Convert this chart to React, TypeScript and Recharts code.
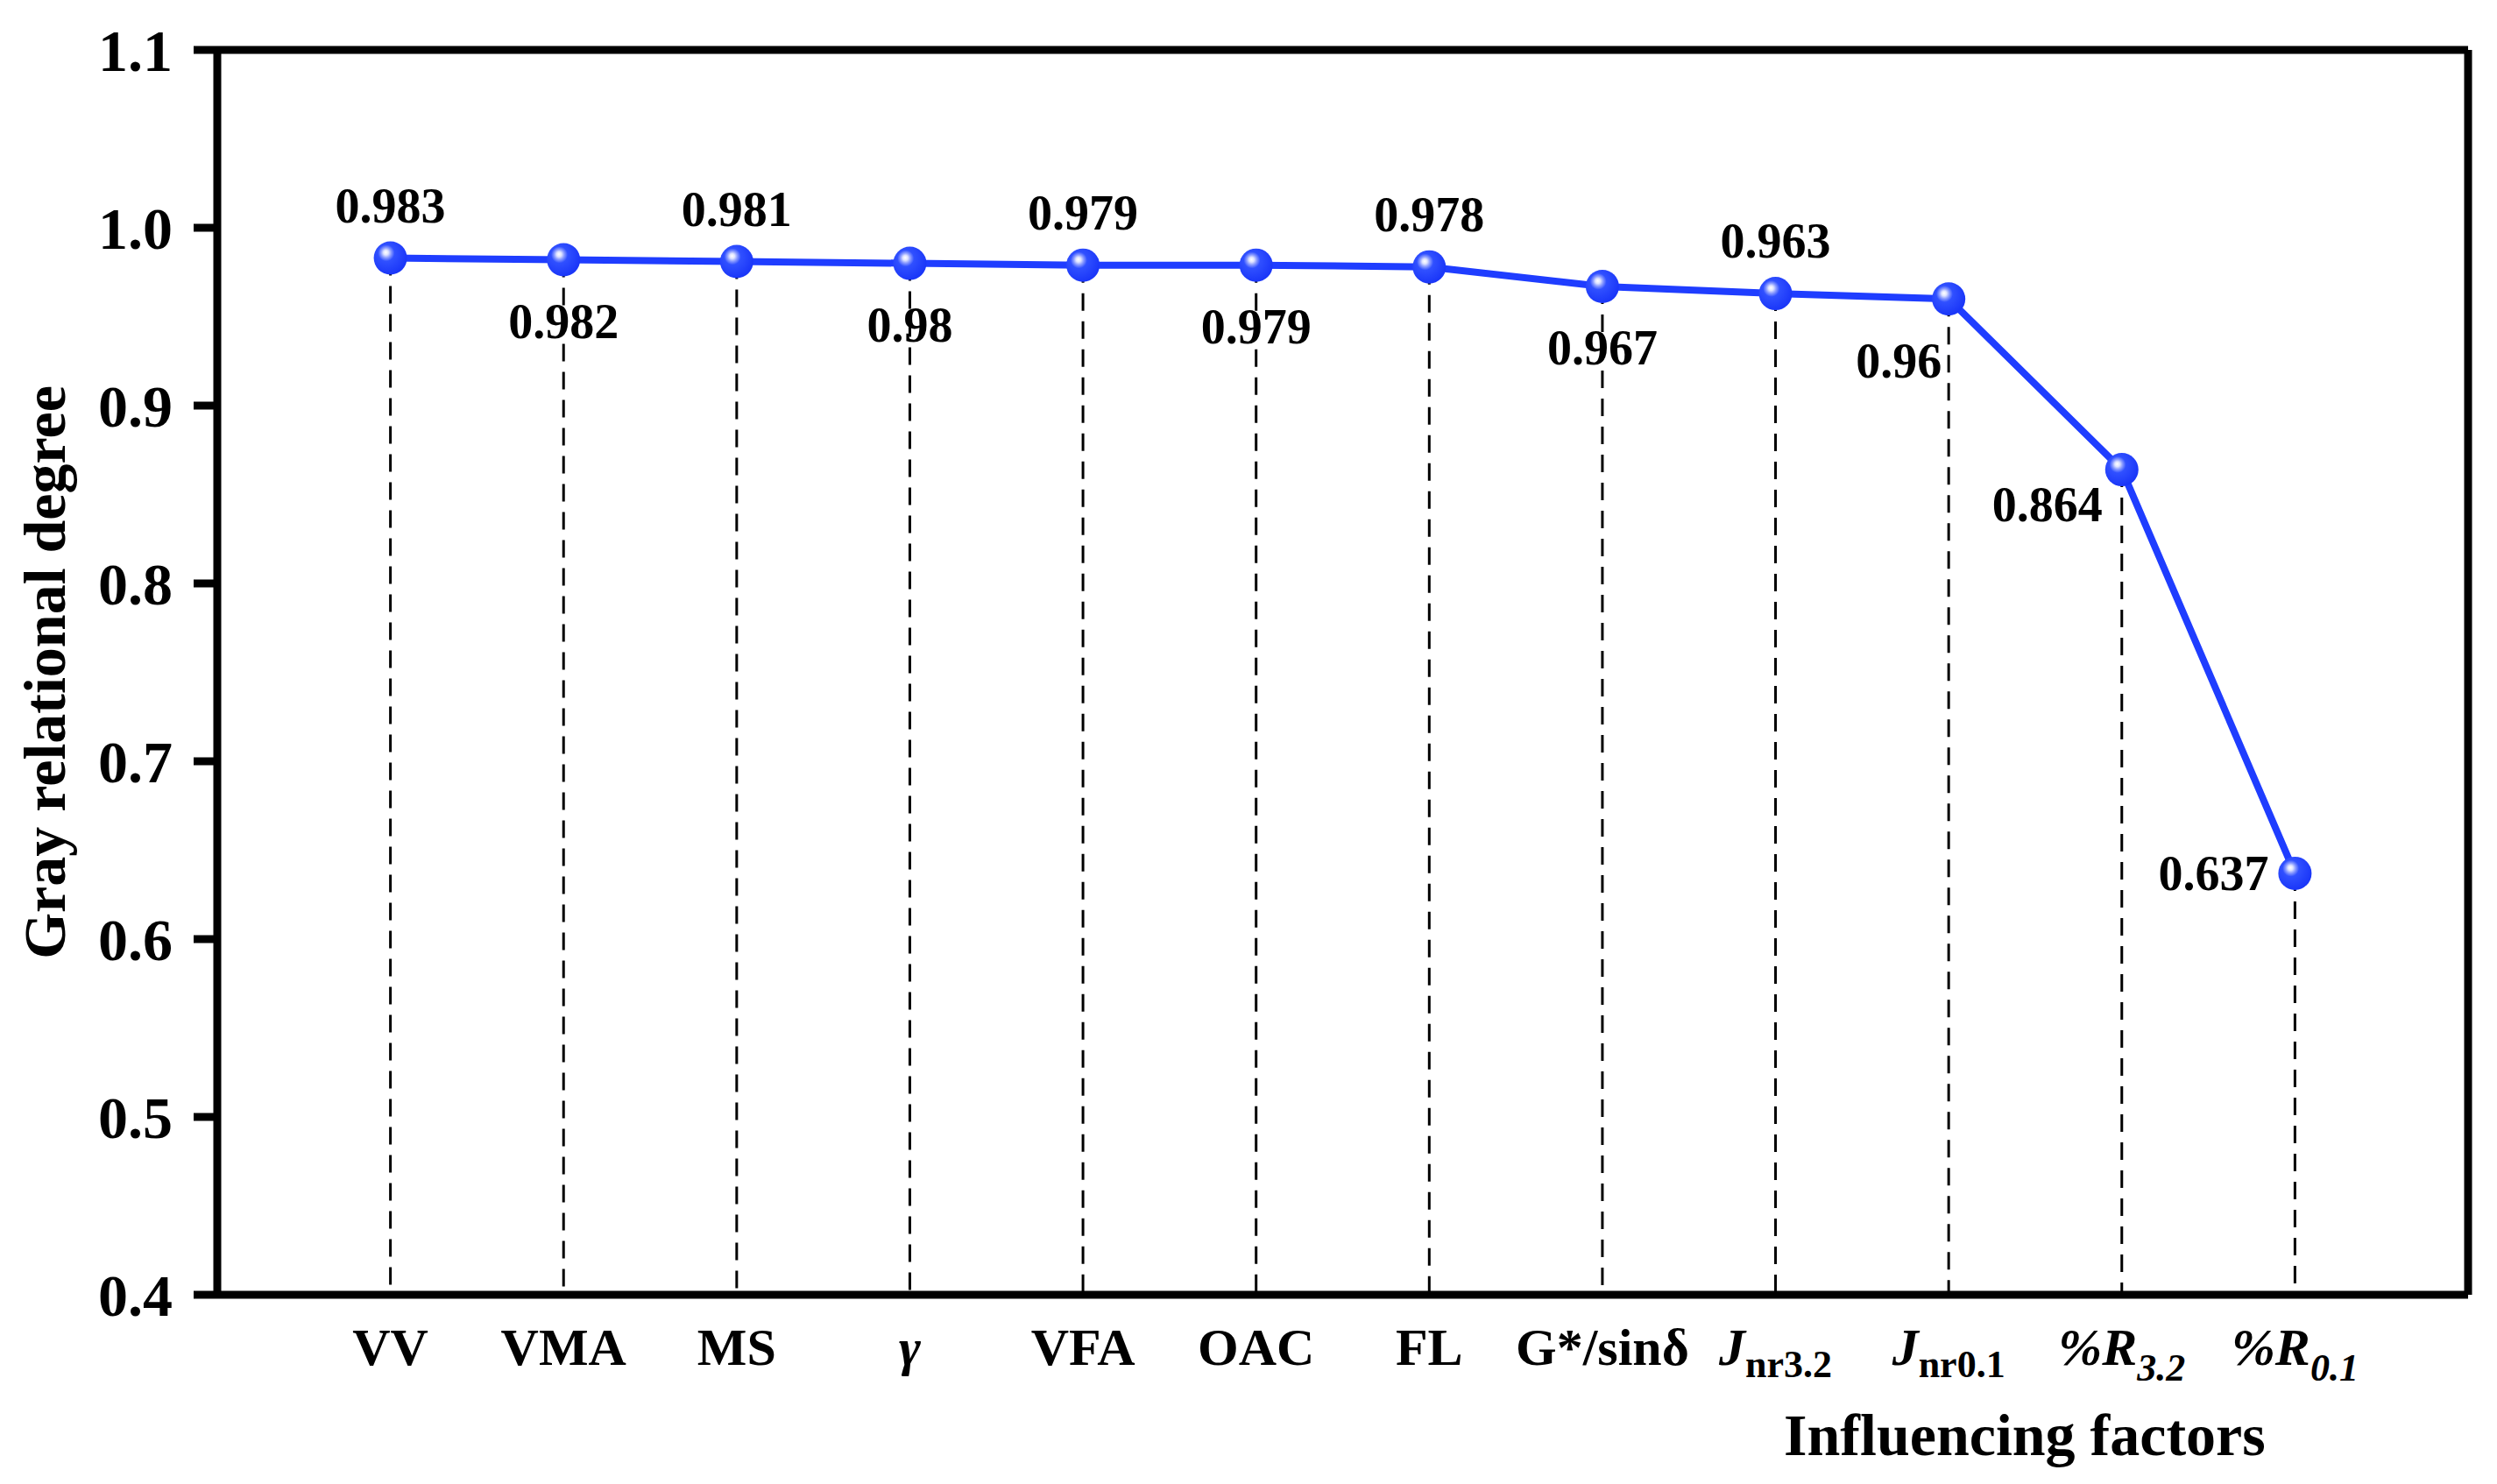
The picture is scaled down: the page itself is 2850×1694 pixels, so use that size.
import React from "react";
import { LineChart, Line, XAxis, YAxis, ReferenceLine, LabelList } from "recharts";

// influencing factors, in the order they are plotted
const FACTORS = ["VV", "VMA", "MS", "γ", "VFA", "OAC", "FL", "G*/sinδ", "Jnr3.2", "Jnr0.1", "%R3.2", "%R0.1"];
const DEGREES = [0.983, 0.982, 0.981, 0.98, 0.979, 0.979, 0.978, 0.967, 0.963, 0.96, 0.864, 0.637];
const Y_TICKS = [0.4, 0.5, 0.6, 0.7, 0.8, 0.9, 1.0, 1.1];
const X_POS = [1, 2, 3, 4, 5, 6, 7, 8, 9, 10, 11, 12];

// where each value label sits relative to its point
const LABEL_SIDE = ["top", "bottom", "top", "bottom", "top", "bottom", "top", "bottom", "top", "lowerLeft", "lowerLeft", "left"];

const FONT = '"Liberation Serif", "Times New Roman", serif';
const BLUE = "#1f3dff";

const data = FACTORS.map((name, i) => ({ pos: X_POS[i], name, value: DEGREES[i] }));

function FactorTick(props: any) {
  const { x, y, payload } = props;
  const name = FACTORS[payload.value - 1];
  if (!name) return null;
  const base = y + 80;
  let body: React.ReactNode = name;
  if (name.startsWith("J")) {
    body = (
      <>
        <tspan fontStyle="italic">J</tspan>
        <tspan fontSize={44} dy={14}>{name.slice(1)}</tspan>
      </>
    );
  } else if (name.startsWith("%R")) {
    body = (
      <>
        <tspan fontStyle="italic">%R</tspan>
        <tspan fontSize={44} dy={18} fontStyle="italic">{name.slice(2)}</tspan>
      </>
    );
  } else if (name === "γ") {
    body = <tspan fontStyle="italic">γ</tspan>;
  }
  return (
    <text x={x} y={base} textAnchor="middle" fontFamily={FONT} fontWeight="bold" fontSize={60} fill="#000">
      {body}
    </text>
  );
}

function ValueLabel(props: any) {
  const { x, y, value, index } = props;
  const side = LABEL_SIDE[index];
  let tx = x;
  let ty = y - 41;
  let anchor: "middle" | "end" = "middle";
  if (side === "bottom") ty = y + 89;
  if (side === "lowerLeft") {
    tx = x - (index === 9 ? 8 : 22);
    ty = y + (index === 9 ? 90 : 59);
    anchor = "end";
  }
  if (side === "left") {
    tx = x - 30;
    ty = y + 19;
    anchor = "end";
  }
  return (
    <text x={tx} y={ty} textAnchor={anchor} fontFamily={FONT} fontWeight="bold" fontSize={56} fill="#000">
      {String(value)}
    </text>
  );
}

function GlossyDot(props: any) {
  const { cx, cy } = props;
  if (cx == null || cy == null) return null;
  return <circle cx={cx} cy={cy} r={19} fill="url(#glossBlue)" />;
}

function XTitle(props: any) {
  const { viewBox } = props;
  return (
    <text
      x={viewBox.x + viewBox.width * 0.803}
      y={viewBox.y + 183}
      textAnchor="middle"
      fontFamily={FONT}
      fontWeight="bold"
      fontSize={68}
      fill="#000"
    >
      Influencing factors
    </text>
  );
}

function YTitle(props: any) {
  const { viewBox } = props;
  const cy = viewBox.y + viewBox.height / 2;
  return (
    <text
      x={74}
      y={cy}
      transform={`rotate(-90 74 ${cy})`}
      textAnchor="middle"
      fontFamily={FONT}
      fontWeight="bold"
      fontSize={68}
      fill="#000"
    >
      Gray relational degree
    </text>
  );
}

export default function App() {
  return (
    <div style={{ position: "absolute", left: 0, top: 0, background: "#fff" }}>
      <LineChart width={2850} height={1694} data={data} margin={{ top: 57, right: 33, bottom: 86, left: 108 }}>
        <defs>
          <radialGradient id="glossBlue" cx="40%" cy="38%" r="62%" fx="36%" fy="33%">
            <stop offset="0%" stopColor="#ffffff" />
            <stop offset="12%" stopColor="#dfe4ff" />
            <stop offset="24%" stopColor="#8c9dff" />
            <stop offset="40%" stopColor="#3050ff" />
            <stop offset="100%" stopColor="#1a36f8" />
          </radialGradient>
        </defs>
        <XAxis
          dataKey="pos"
          type="number"
          domain={[0, 13]}
          ticks={X_POS}
          interval={0}
          height={130}
          tickSize={0}
          tickMargin={0}
          tickLine={false}
          axisLine={{ stroke: "#000", strokeWidth: 9 }}
          tick={<FactorTick />}
          label={<XTitle />}
        />
        <YAxis
          type="number"
          domain={[0.4, 1.1]}
          ticks={Y_TICKS}
          interval={0}
          width={140}
          tickSize={27}
          tickMargin={24}
          tickLine={{ stroke: "#000", strokeWidth: 9 }}
          axisLine={{ stroke: "#000", strokeWidth: 9 }}
          tickFormatter={(v: number) => v.toFixed(1)}
          tick={{ fill: "#000", fontFamily: FONT, fontWeight: "bold", fontSize: 68 }}
          label={<YTitle />}
        />
        <ReferenceLine y={1.1} stroke="#000" strokeWidth={9} />
        <ReferenceLine x={13} stroke="#000" strokeWidth={9} />
        {data.map((d) => (
          <ReferenceLine
            key={d.name}
            segment={[
              { x: d.pos, y: d.value },
              { x: d.pos, y: 0.4 },
            ]}
            stroke="#000"
            strokeWidth={3}
            strokeDasharray="20 12"
          />
        ))}
        <Line
          dataKey="value"
          stroke={BLUE}
          strokeWidth={8}
          dot={<GlossyDot />}
          activeDot={false}
          isAnimationActive={false}
        >
          <LabelList dataKey="value" content={<ValueLabel />} />
        </Line>
      </LineChart>
    </div>
  );
}
